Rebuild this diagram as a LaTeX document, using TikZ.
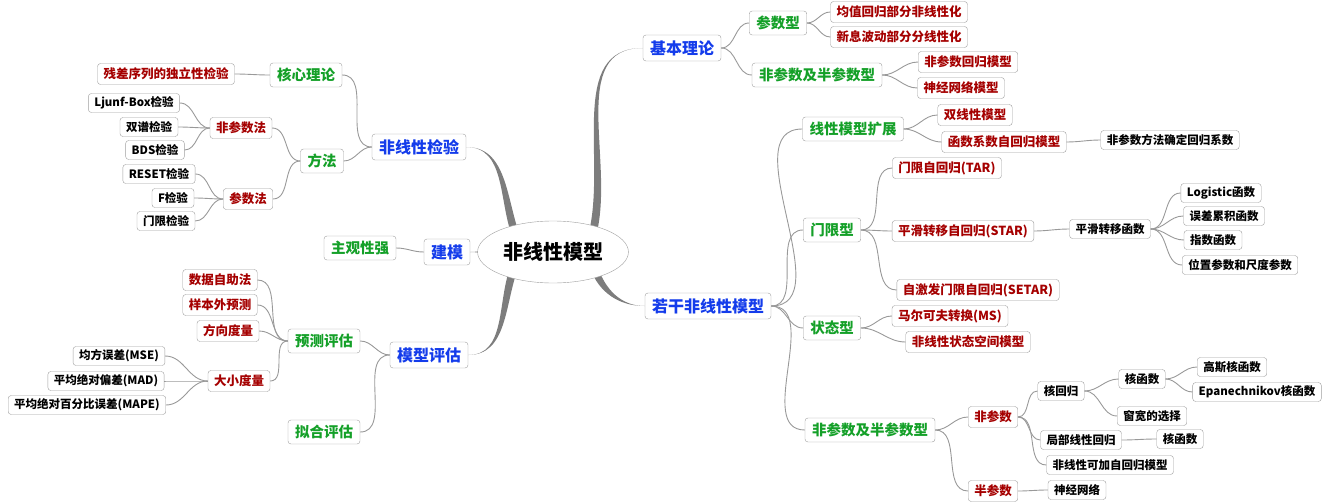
\documentclass[tikz,border=0pt]{standalone}
\usepackage{fontspec}
\setmainfont{Noto Sans CJK SC}
\usetikzlibrary{shapes.geometric,calc}
\definecolor{cblue}{RGB}{20,60,235}
\definecolor{cgreen}{RGB}{20,160,40}
\definecolor{cred}{RGB}{165,0,0}
\definecolor{trunkc}{RGB}{125,125,125}
\tikzset{
 box/.style={draw=gray!75, rounded corners=3pt, fill=white, inner xsep=7pt, inner ysep=1.5pt},
 Lone/.style={box, text=cblue, font=\bfseries\fontsize{16}{18}\selectfont, minimum height=26},
 Ltwo/.style={box, text=cgreen, font=\bfseries\fontsize{14.5}{16}\selectfont, minimum height=24},
 Lthree/.style={box, text=cred, font=\bfseries\fontsize{12.5}{14}\selectfont, minimum height=21, inner xsep=6pt},
 Lfour/.style={box, text=black, font=\bfseries\fontsize{11.5}{13}\selectfont, minimum height=19, inner xsep=6pt},
 ln/.style={draw=gray!80, line width=0.9pt},
}
\newcommand\cR[2]{\draw[ln] (#1.east) to[out=0,in=180] (#2.west);}
\newcommand\cL[2]{\draw[ln] (#1.west) to[out=180,in=0] (#2.east);}
\begin{document}
\begin{tikzpicture}[x=1pt,y=-1pt]
\useasboundingbox (0,0) rectangle (1328,503);
% level 1
\node[Lone] (jb) at (682,48) {基本理论};
\node[Lone] (rg) at (708,306) {若干非线性模型};
\node[Lone] (fx) at (419,147) {非线性检验};
\node[Lone] (jm) at (447,252) {建模};
\node[Lone] (pg) at (429,355) {模型评估};
% trunks
\coordinate (t1) at (592,236);
\coordinate (t2) at (594,268);
\coordinate (t3) at (516,236);
\coordinate (t4) at (500,252);
\coordinate (t5) at (514,268);
\fill[trunkc] ($(t1)+(-4,0)$) to[out=75,in=180] (jb.west) to[out=180,in=75] ($(t1)+(4,0)$) -- cycle;
\fill[trunkc] ($(t2)+(-4,0)$) to[out=-70,in=180] (rg.west) to[out=180,in=-70] ($(t2)+(4,0)$) -- cycle;
\fill[trunkc] ($(t3)+(-4,0)$) to[out=110,in=0] (fx.east) to[out=0,in=110] ($(t3)+(4,0)$) -- cycle;
\fill[trunkc] ($(t4)+(0,-4)$) to[out=180,in=0] (jm.east) to[out=0,in=180] ($(t4)+(0,4)$) -- cycle;
\fill[trunkc] ($(t5)+(-4,0)$) to[out=-110,in=0] (pg.east) to[out=0,in=-110] ($(t5)+(4,0)$) -- cycle;
\node[ellipse, draw=gray!75, fill=white, minimum width=118, minimum height=62, font=\bfseries\fontsize{20}{22}\selectfont] (c) at (553,252) {非线性模型};
% right: 基本理论
\node[Ltwo] (csx) at (778,23) {参数型};
\node[Lthree] (a1) at (899,12) {均值回归部分非线性化};
\node[Lthree] (a2) at (899,37) {新息波动部分分线性化};
\node[Ltwo] (fcs) at (817,75) {非参数及半参数型};
\node[Lthree] (a3) at (968,62) {非参数回归模型};
\node[Lthree] (a4) at (961,88) {神经网络模型};
\cR{jb}{csx}\cR{jb}{fcs}\cR{csx}{a1}\cR{csx}{a2}\cR{fcs}{a3}\cR{fcs}{a4}
% right: 若干非线性模型
\node[Ltwo] (xx) at (853,129) {线性模型扩展};
\node[Lthree] (b1) at (975,115) {双线性模型};
\node[Lthree] (b2) at (1004,142) {函数系数自回归模型};
\node[Lfour] (b3) at (1170,140) {非参数方法确定回归系数};
\cR{rg}{xx}\cR{xx}{b1}\cR{xx}{b2}\cR{b2}{b3}
\node[Ltwo] (mx) at (832,230) {门限型};
\node[Lthree] (d1) at (947,168) {门限自回归(TAR)};
\node[Lthree] (d2) at (963,231) {平滑转移自回归(STAR)};
\node[Lthree] (d3) at (978,290) {自激发门限自回归(SETAR)};
\node[Lfour] (d4) at (1110,229) {平滑转移函数};
\node[Lfour] (e1) at (1221,193) {Logistic函数};
\node[Lfour] (e2) at (1224,216) {误差累积函数};
\node[Lfour] (e3) at (1213,240) {指数函数};
\node[Lfour] (e4) at (1240,265) {位置参数和尺度参数};
\cR{rg}{mx}\cR{mx}{d1}\cR{mx}{d2}\cR{mx}{d3}\cR{d2}{d4}
\cR{d4}{e1}\cR{d4}{e2}\cR{d4}{e3}\cR{d4}{e4}
\node[Ltwo] (zt) at (832,328) {状态型};
\node[Lthree] (f1) at (950,316) {马尔可夫转换(MS)};
\node[Lthree] (f2) at (968,342) {非线性状态空间模型};
\cR{rg}{zt}\cR{zt}{f1}\cR{zt}{f2}
\node[Ltwo] (fb) at (870,430) {非参数及半参数型};
\node[Lthree] (g1) at (993,417) {非参数};
\node[Lthree] (g2) at (993,491) {半参数};
\node[Lfour] (h1) at (1061,391) {核回归};
\node[Lfour] (h2) at (1142,379) {核函数};
\node[Lfour] (h3) at (1232,367) {高斯核函数};
\node[Lfour] (h4) at (1257,392) {Epanechnikov核函数};
\node[Lfour] (h5) at (1152,416) {窗宽的选择};
\node[Lfour] (h6) at (1081,440) {局部线性回归};
\node[Lfour] (h7) at (1180,439) {核函数};
\node[Lfour] (h8) at (1110,465) {非线性可加自回归模型};
\node[Lfour] (h9) at (1077,490) {神经网络};
\cR{rg}{fb}\cR{fb}{g1}\cR{fb}{g2}\cR{g1}{h1}\cR{g1}{h6}\cR{g1}{h8}
\cR{h1}{h2}\cR{h1}{h5}\cR{h2}{h3}\cR{h2}{h4}\cR{h6}{h7}\cR{g2}{h9}
% left: 非线性检验
\node[Ltwo] (hx) at (306,75) {核心理论};
\node[Lthree] (k1) at (166,74) {残差序列的独立性检验};
\node[Ltwo] (ff) at (322,161) {方法};
\node[Lthree] (k2) at (241,128) {非参数法};
\node[Lthree] (k3) at (248,199) {参数法};
\node[Lfour] (m1) at (134,103) {Ljunf-Box检验};
\node[Lfour] (m2) at (149,127) {双谱检验};
\node[Lfour] (m3) at (155,150) {BDS检验};
\node[Lfour] (m4) at (159,174) {RESET检验};
\node[Lfour] (m5) at (173,198) {F检验};
\node[Lfour] (m6) at (166,221) {门限检验};
\cL{fx}{hx}\cL{fx}{ff}\cL{hx}{k1}\cL{ff}{k2}\cL{ff}{k3}
\cL{k2}{m1}\cL{k2}{m2}\cL{k2}{m3}\cL{k3}{m4}\cL{k3}{m5}\cL{k3}{m6}
% 建模
\node[Ltwo] (zg) at (360,248) {主观性强};
\cL{jm}{zg}
% 模型评估
\node[Ltwo] (yc) at (324,341) {预测评估};
\node[Ltwo] (nh) at (324,432) {拟合评估};
\node[Lthree] (p1) at (220,280) {数据自助法};
\node[Lthree] (p2) at (220,305) {样本外预测};
\node[Lthree] (p3) at (228,331) {方向度量};
\node[Lthree] (p4) at (239,381) {大小度量};
\node[Lfour] (q1) at (119,356) {均方误差(MSE)};
\node[Lfour] (q2) at (106,381) {平均绝对偏差(MAD)};
\node[Lfour] (q3) at (87,405) {平均绝对百分比误差(MAPE)};
\cL{pg}{yc}\cL{pg}{nh}\cL{yc}{p1}\cL{yc}{p2}\cL{yc}{p3}\cL{yc}{p4}
\cL{p4}{q1}\cL{p4}{q2}\cL{p4}{q3}
\end{tikzpicture}
\end{document}
